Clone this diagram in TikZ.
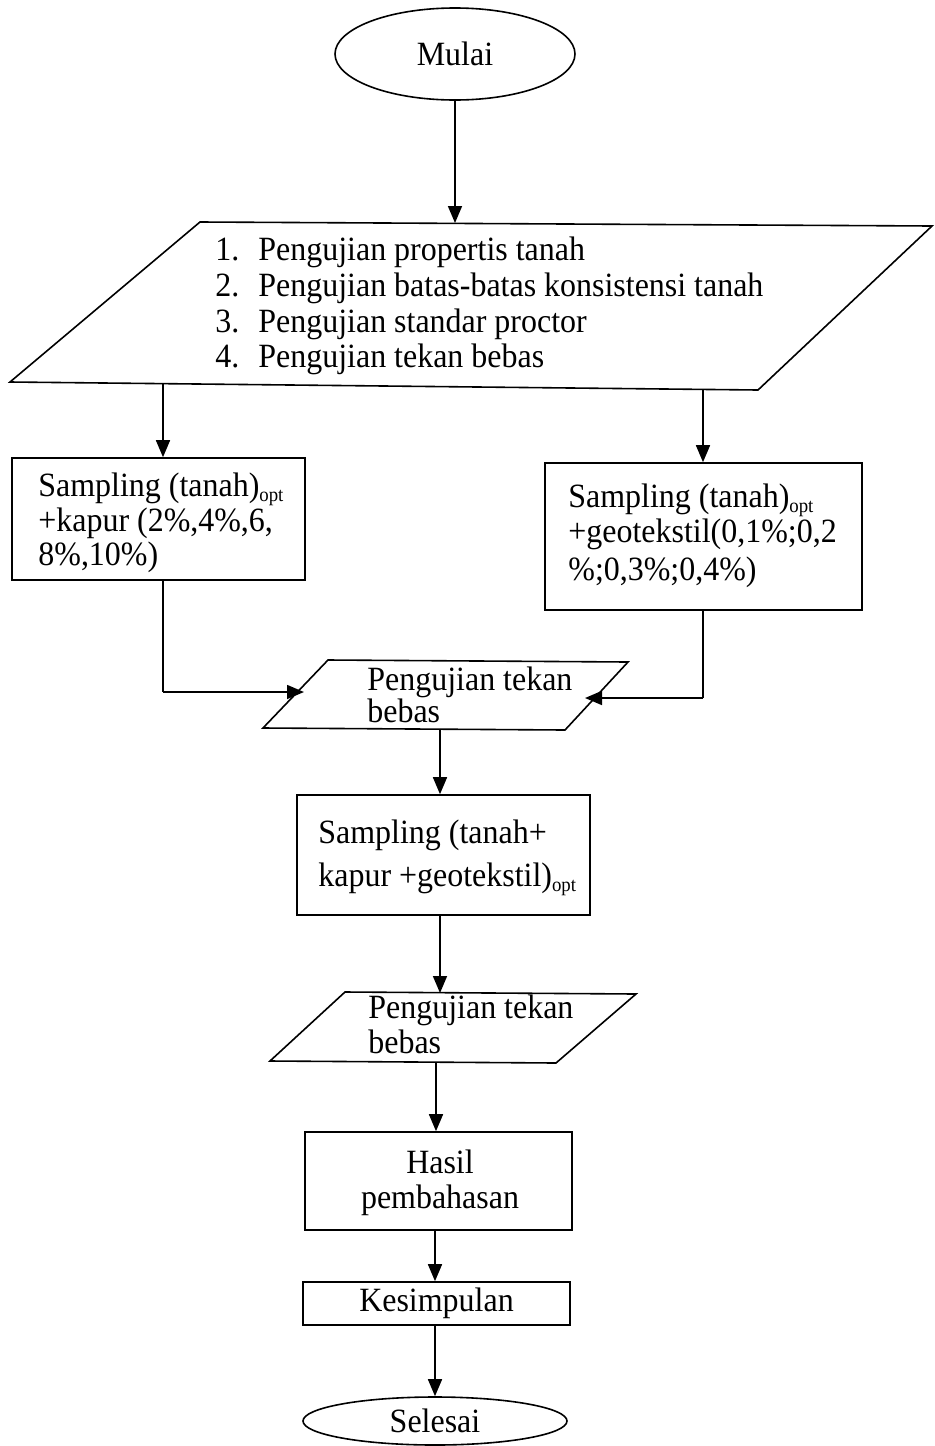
\documentclass[tikz,border=0pt]{standalone}
\usepackage{fontspec}
\setmainfont[FakeStretch=0.94]{Liberation Serif}
\usetikzlibrary{arrows.meta,shapes.geometric}
\tikzset{
  line/.style={line width=0.8pt},
  arr/.style={line width=0.8pt,-{Triangle[length=8.5pt,width=7pt]}},
  txt/.style={inner sep=0pt,anchor=base west,font=\fontsize{17}{18}\selectfont},
  ctxt/.style={inner sep=0pt,anchor=base,font=\fontsize{17}{18}\selectfont},
  term/.style={ellipse,draw,line width=0.8pt,inner sep=0pt,font=\fontsize{17}{18}\selectfont},
  procbox/.style={rectangle,draw,line width=0.8pt,inner sep=0pt},
}
\newcommand{\optsub}{\textsubscript{\fontsize{10}{10}\selectfont opt}}
\begin{document}
\begin{tikzpicture}[x=0.5pt,y=-0.5pt]
\useasboundingbox (0,0) rectangle (934,1446);
% start
\node[term,minimum width=120pt,minimum height=46pt] (mulai) at (455,54) {Mulai};
% big parallelogram
\coordinate (p1tl) at (200,222);
\coordinate (p1tr) at (932,226);
\coordinate (p1br) at (758,390);
\coordinate (p1bl) at (10,382);
\draw[line] (p1tl) -- (p1tr) -- (p1br) -- (p1bl) -- cycle;
\coordinate (p1in) at (455,223);
\coordinate (p1outL) at (163,383);
\coordinate (p1outR) at (703,389);
\node[txt] (n1) at (215,260) {1.};
\node[txt] (n2) at (215,296) {2.};
\node[txt] (n3) at (215,332) {3.};
\node[txt] (n4) at (215,367) {4.};
\node[txt] (l1) at (258,260) {Pengujian propertis tanah};
\node[txt] (l2) at (258,296) {Pengujian batas-batas konsistensi tanah};
\node[txt] (l3) at (258,332) {Pengujian standar proctor};
\node[txt] (l4) at (258,367) {Pengujian tekan bebas};
% left box
\node[procbox,minimum width=146.5pt,minimum height=61pt] (boxL) at (158.5,519) {};
\node[txt] (bl1) at (38,496) {Sampling (tanah)\optsub};
\node[txt] (bl2) at (38,531) {+kapur (2\%,4\%,6,};
\node[txt] (bl3) at (38,565) {8\%,10\%)};
% right box
\node[procbox,minimum width=158.5pt,minimum height=73.5pt] (boxR) at (703.5,536.5) {};
\node[txt] (br1) at (568,507) {Sampling (tanah)\optsub};
\node[txt] (br2) at (568,542) {+geotekstil(0,1\%;0,2};
\node[txt] (br3) at (568,580) {\%;0,3\%;0,4\%)};
% parallelogram 2
\coordinate (p2tl) at (328,660);
\coordinate (p2tr) at (628,662);
\coordinate (p2br) at (565,730);
\coordinate (p2bl) at (263,728);
\draw[line] (p2tl) -- (p2tr) -- (p2br) -- (p2bl) -- cycle;
\coordinate (p2inL) at (304,692);
\coordinate (p2inR) at (585,698);
\coordinate (p2out) at (440,729);
\coordinate (cL) at (163,692);
\coordinate (cR) at (703,698);
\node[txt] (t2a) at (367,690) {Pengujian tekan};
\node[txt] (t2b) at (367,722) {bebas};
% box 3
\node[procbox,minimum width=146.5pt,minimum height=60pt] (box3) at (443.5,855) {};
\node[txt] (b3a) at (318,843) {Sampling (tanah+};
\node[txt] (b3b) at (318,886) {kapur +geotekstil)\optsub};
% parallelogram 3
\coordinate (p3tl) at (345,992);
\coordinate (p3tr) at (636,994);
\coordinate (p3br) at (556,1063);
\coordinate (p3bl) at (270,1061);
\draw[line] (p3tl) -- (p3tr) -- (p3br) -- (p3bl) -- cycle;
\coordinate (p3in) at (440,993);
\coordinate (p3out) at (436,1062);
\node[txt] (t3a) at (368,1018) {Pengujian tekan};
\node[txt] (t3b) at (368,1053) {bebas};
% hasil
\node[procbox,minimum width=133.5pt,minimum height=49pt] (hasil) at (438.5,1181) {};
\node[ctxt] (h1) at (440,1173) {Hasil};
\node[ctxt] (h2) at (440,1208) {pembahasan};
% kesimpulan
\node[procbox,minimum width=133.5pt,minimum height=21.5pt,font=\fontsize{17}{18}\selectfont] (kes) at (436.5,1303.5) {Kesimpulan};
% selesai
\node[term,minimum width=132pt,minimum height=24pt] (selesai) at (435,1421) {Selesai};
% connectors
\draw[arr] (mulai.south) -- (p1in);
\draw[arr] (p1outL) -- (p1outL |- boxL.north);
\draw[arr] (p1outR) -- (p1outR |- boxR.north);
\draw[line] (boxL.south -| cL) -- (cL);
\draw[arr] (cL) -- (p2inL);
\draw[line] (boxR.south -| cR) -- (cR);
\draw[arr] (cR) -- (p2inR);
\draw[arr] (p2out) -- (p2out |- box3.north);
\draw[arr] (box3.south -| p3in) -- (p3in);
\draw[arr] (p3out) -- (p3out |- hasil.north);
\draw[arr] (hasil.south -| 435,0) -- (435,0 |- kes.north);
\draw[arr] (kes.south -| selesai.north) -- (selesai.north);
\end{tikzpicture}
\end{document}
